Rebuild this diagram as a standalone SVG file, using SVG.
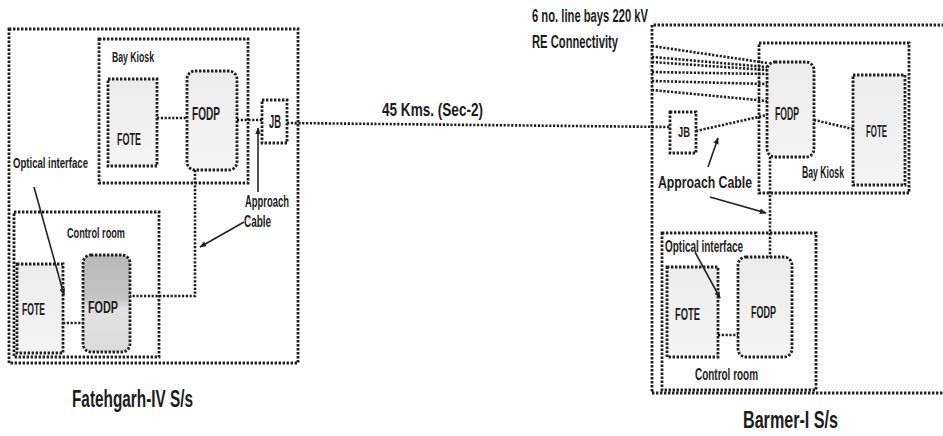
<svg xmlns="http://www.w3.org/2000/svg" width="943" height="436" viewBox="0 0 943 436">
<defs>
<style>
.box{fill:none;stroke:#1e1e1e;stroke-width:2.8;stroke-dasharray:2.4 1.6}
.eq{fill:url(#g1);stroke:#1e1e1e;stroke-width:2.8;stroke-dasharray:2.4 1.6}
.dk{fill:url(#g2);stroke:#1e1e1e;stroke-width:2.8;stroke-dasharray:2.4 1.6}
.dl{fill:none;stroke:#1e1e1e;stroke-width:2.6;stroke-dasharray:2.2 1.6}
.ar{fill:none;stroke:#222;stroke-width:1.6;marker-end:url(#ah)}
text{font-family:"Liberation Sans",Arial,sans-serif;fill:#1c1c1c;font-weight:bold}
.s{font-size:14px}
.m{font-size:16px}
.l{font-size:18px}
.t{font-size:23px}
</style>
<linearGradient id="g1" x1="0" y1="0" x2="0" y2="1">
<stop offset="0" stop-color="#ececec"/><stop offset="1" stop-color="#f4f4f4"/>
</linearGradient>
<linearGradient id="g2" x1="0" y1="0" x2="0" y2="1">
<stop offset="0" stop-color="#b9b9b9"/><stop offset="0.45" stop-color="#c4c4c4"/><stop offset="0.55" stop-color="#e2e2e2"/><stop offset="1" stop-color="#dadada"/>
</linearGradient>
<marker id="ah" viewBox="0 0 10 10" refX="9" refY="5" markerWidth="7" markerHeight="7" orient="auto" markerUnits="userSpaceOnUse">
<path d="M0,1 L10,5 L0,9 z" fill="#222"/>
</marker>
</defs>
<rect width="943" height="436" fill="#ffffff"/>

<g id="fatehgarh">
<rect id="f-outer" class="box" x="9" y="29" width="289" height="334"/>
<g id="f-baykiosk">
<rect class="box" x="99" y="39" width="149" height="144"/>
<text class="s" x="112" y="62" textLength="42" lengthAdjust="spacingAndGlyphs">Bay Kiosk</text>
</g>
<g id="f-fote-bay">
<rect class="eq" x="108" y="79" width="49" height="87"/>
<text class="m" x="117" y="145" textLength="24" lengthAdjust="spacingAndGlyphs">FOTE</text>
</g>
<g id="f-fodp-bay">
<rect class="eq" x="187" y="71" width="50" height="99" rx="8"/>
<text class="l" x="192" y="120" textLength="28" lengthAdjust="spacingAndGlyphs">FODP</text>
</g>
<g id="f-jb">
<rect class="box" x="262" y="100" width="25" height="43"/>
<text class="l" x="269" y="128" textLength="12" lengthAdjust="spacingAndGlyphs">JB</text>
</g>
<g id="f-control">
<rect class="box" x="14" y="212" width="145" height="145"/>
<text class="s" x="67" y="238" textLength="58" lengthAdjust="spacingAndGlyphs">Control room</text>
</g>
<g id="f-fote-ctrl">
<rect class="eq" x="17" y="264" width="46" height="89"/>
<text class="m" x="22" y="315" textLength="23" lengthAdjust="spacingAndGlyphs">FOTE</text>
</g>
<g id="f-fodp-ctrl">
<rect class="dk" x="83" y="255" width="47" height="97" rx="8"/>
<text class="m" x="88" y="313" textLength="30" lengthAdjust="spacingAndGlyphs">FODP</text>
</g>
<text class="s" x="13" y="168" textLength="75" lengthAdjust="spacingAndGlyphs">Optical interface</text>
<text class="m" x="245" y="207" textLength="44" lengthAdjust="spacingAndGlyphs">Approach</text>
<text class="m" x="244" y="227" textLength="27" lengthAdjust="spacingAndGlyphs">Cable</text>
<text class="t" x="72" y="407" textLength="121" lengthAdjust="spacingAndGlyphs">Fatehgarh-IV S/s</text>
</g>

<g id="barmer">
<path id="b-outer" class="box" d="M960,25 H652 V393 H960"/>
<g id="b-baykiosk">
<rect class="box" x="759" y="43" width="150" height="150"/>
<text class="m" x="802" y="178" textLength="42" lengthAdjust="spacingAndGlyphs">Bay Kiosk</text>
</g>
<g id="b-fodp-bay">
<rect class="eq" x="767" y="62" width="47" height="95" rx="8"/>
<text class="l" x="775" y="120" textLength="24" lengthAdjust="spacingAndGlyphs">FODP</text>
</g>
<g id="b-fote-bay">
<rect class="eq" x="853" y="75" width="52" height="110"/>
<text class="m" x="866" y="137" textLength="21" lengthAdjust="spacingAndGlyphs">FOTE</text>
</g>
<g id="b-jb">
<rect class="box" x="670" y="112" width="26" height="41"/>
<text class="s" x="678" y="137" textLength="12" lengthAdjust="spacingAndGlyphs">JB</text>
</g>
<g id="b-control">
<rect class="box" x="662" y="233" width="154" height="157"/>
<text class="m" x="695" y="380" textLength="63" lengthAdjust="spacingAndGlyphs">Control room</text>
</g>
<g id="b-fote-ctrl">
<rect class="eq" x="667" y="267" width="51" height="90"/>
<text class="m" x="675" y="320" textLength="25" lengthAdjust="spacingAndGlyphs">FOTE</text>
</g>
<g id="b-fodp-ctrl">
<rect class="eq" x="738" y="257" width="54" height="100" rx="8"/>
<text class="m" x="751" y="318" textLength="25" lengthAdjust="spacingAndGlyphs">FODP</text>
</g>
<text class="l" x="532" y="22" textLength="116" lengthAdjust="spacingAndGlyphs">6 no. line bays 220 kV</text>
<text class="l" x="532" y="48" textLength="86" lengthAdjust="spacingAndGlyphs">RE Connectivity</text>
<text class="m" x="658" y="188" textLength="94" lengthAdjust="spacingAndGlyphs">Approach Cable</text>
<text class="m" x="665" y="252" textLength="78" lengthAdjust="spacingAndGlyphs">Optical interface</text>
<text class="t" x="743" y="428" font-size="25" textLength="95" lengthAdjust="spacingAndGlyphs">Barmer-I S/s</text>
</g>

<text x="382" y="116" font-size="18" font-weight="normal" textLength="101" lengthAdjust="spacingAndGlyphs">45 Kms. (Sec-2)</text>

<g id="connectors">
<line class="dl" x1="157" y1="118" x2="187" y2="118"/>
<line class="dl" x1="237" y1="120" x2="262" y2="120"/>
<line class="dl" x1="287" y1="123" x2="670" y2="127"/>
<path class="dl" d="M195,170 V296 H130"/>
<line class="dl" x1="63" y1="323" x2="83" y2="323"/>
<line class="dl" x1="696" y1="131" x2="767" y2="115"/>
<line class="dl" x1="814" y1="120" x2="853" y2="129"/>
<line class="dl" x1="770" y1="157" x2="770" y2="257"/>
<line class="dl" x1="718" y1="335" x2="738" y2="335"/>
<line class="dl" x1="652" y1="46" x2="767" y2="63"/>
<line class="dl" x1="652" y1="57" x2="767" y2="67"/>
<line class="dl" x1="652" y1="62" x2="767" y2="70"/>
<line class="dl" x1="652" y1="72" x2="767" y2="74"/>
<line class="dl" x1="652" y1="81" x2="767" y2="84"/>
<line class="dl" x1="652" y1="90" x2="767" y2="101"/>
<line class="ar" x1="34" y1="187" x2="64" y2="295"/>
<line class="ar" x1="258" y1="192" x2="258" y2="128"/>
<line class="ar" x1="244" y1="222" x2="200" y2="247"/>
<line class="ar" x1="708" y1="167" x2="718" y2="138"/>
<line class="ar" x1="710" y1="197" x2="766" y2="213"/>
<line class="ar" x1="695" y1="252" x2="720" y2="298"/>
</g>
</svg>
